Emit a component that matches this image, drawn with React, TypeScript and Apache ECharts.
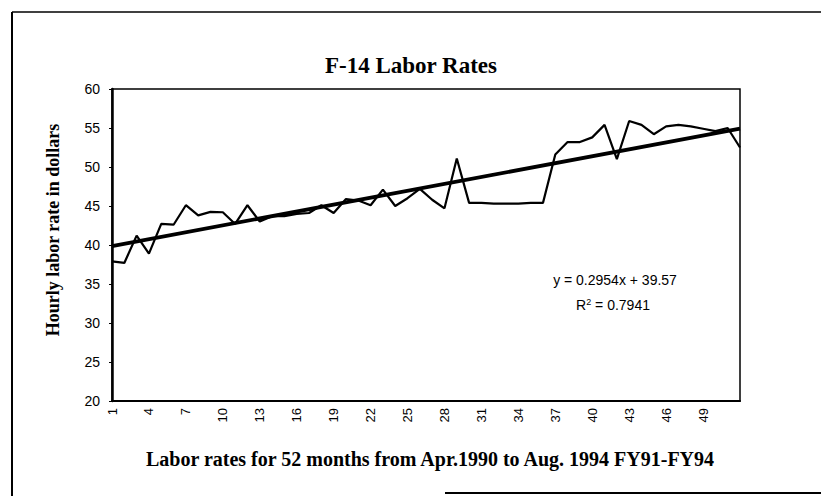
import React, { useEffect, useRef } from "react";
import * as echarts from "echarts";

const months: string[] = Array.from({ length: 52 }, (_, i) => String(i + 1));
const laborRates: number[] = [
  37.9, 37.7, 41.2, 38.9, 42.7, 42.6, 45.1, 43.8, 44.25, 44.2,
  42.7, 45.1, 43.0, 43.7, 43.7, 44.0, 44.1, 45.1, 44.1, 45.9,
  45.7, 45.1, 47.1, 45.0, 46.0, 47.2, 45.8, 44.7, 51.1, 45.4,
  45.4, 45.3, 45.3, 45.3, 45.4, 45.4, 51.6, 53.2, 53.2, 53.8,
  55.4, 51.0, 55.9, 55.4, 54.2, 55.2, 55.4, 55.2, 54.9, 54.6,
  55.0, 52.5,
];
const trendSlope = 0.2954;
const trendIntercept = 39.57;
const yMin = 20;
const yMax = 60;
const yStep = 5;

const titleText = "F-14 Labor Rates";
const xTitle = "Labor rates for 52 months from Apr.1990 to Aug. 1994 FY91-FY94";
const yTitle = "Hourly labor rate in dollars";
const eqText = "y = 0.2954x + 39.57";
const r2Text = "R{s|2} = 0.7941";

export default function App() {
  const ref = useRef<HTMLDivElement>(null);
  useEffect(() => {
    document.body.style.margin = "0";
    const chart = echarts.init(ref.current!, null, { renderer: "svg" });
    const n = months.length;
    const trendData = [
      [0, trendSlope * 1 + trendIntercept],
      [n - 1, trendSlope * n + trendIntercept],
    ];
    const serif = "'Liberation Serif', 'Times New Roman', serif";
    const sans = "'Liberation Sans', Arial, sans-serif";
    chart.setOption({
      animation: false,
      backgroundColor: "#ffffff",
      grid: {
        left: 112,
        top: 89,
        right: 81,
        bottom: 95,
        show: true,
        borderColor: "#000",
        borderWidth: 1.5,
        backgroundColor: "transparent",
      },
      xAxis: {
        type: "category",
        data: months,
        boundaryGap: false,
        axisLine: { show: true, lineStyle: { color: "#000", width: 2 } },
        axisTick: { show: false },
        axisLabel: {
          rotate: 90,
          interval: (idx: number) => idx % 3 === 0 && idx < 50,
          color: "#000",
          fontFamily: sans,
          fontSize: 13,
          margin: 7,
        },
        splitLine: { show: false },
      },
      yAxis: {
        type: "value",
        min: yMin,
        max: yMax,
        interval: yStep,
        axisLine: { show: true, lineStyle: { color: "#000", width: 2.5 } },
        axisTick: { show: true, inside: false, length: 3, lineStyle: { color: "#000", width: 1 } },
        axisLabel: { color: "#000", fontFamily: sans, fontSize: 14, margin: 12 },
        splitLine: { show: false },
      },
      series: [
        {
          type: "line",
          data: laborRates,
          symbol: "none",
          lineStyle: { color: "#000", width: 2.2 },
          z: 3,
        },
        {
          type: "line",
          data: trendData,
          symbol: "none",
          lineStyle: { color: "#000", width: 3.8 },
          z: 4,
        },
      ],
      graphic: [
        {
          type: "line",
          shape: { x1: 12, y1: 12, x2: 821, y2: 12 },
          style: { stroke: "#000", lineWidth: 1.5 },
        },
        {
          type: "line",
          shape: { x1: 12, y1: 12, x2: 12, y2: 496 },
          style: { stroke: "#000", lineWidth: 2 },
        },
        {
          type: "line",
          shape: { x1: 445, y1: 493, x2: 821, y2: 493 },
          style: { stroke: "#000", lineWidth: 2 },
        },
        {
          type: "text",
          x: 411,
          y: 65,
          style: {
            text: titleText,
            fontFamily: serif,
            fontWeight: "bold",
            fontSize: 23,
            fill: "#000",
            align: "center",
            verticalAlign: "middle",
          },
        },
        {
          type: "text",
          x: 430,
          y: 459,
          style: {
            text: xTitle,
            fontFamily: serif,
            fontWeight: "bold",
            fontSize: 20,
            fill: "#000",
            align: "center",
            verticalAlign: "middle",
          },
        },
        {
          type: "text",
          x: 53,
          y: 230,
          rotation: Math.PI / 2,
          style: {
            text: yTitle,
            fontFamily: serif,
            fontWeight: "bold",
            fontSize: 18,
            fill: "#000",
            align: "center",
            verticalAlign: "middle",
          },
        },
        {
          type: "text",
          x: 615,
          y: 280,
          style: {
            text: eqText,
            fontFamily: sans,
            fontSize: 14,
            fill: "#000",
            align: "center",
            verticalAlign: "middle",
          },
        },
        {
          type: "text",
          x: 613,
          y: 305,
          style: {
            text: r2Text,
            fontFamily: sans,
            fontSize: 14,
            fill: "#000",
            align: "center",
            verticalAlign: "middle",
            rich: {
              s: { fontSize: 9, verticalAlign: "top", padding: [0, 0, 6, 0], fontFamily: sans, fill: "#000" },
            },
          },
        },
      ],
    });
    return () => chart.dispose();
  }, []);
  return <div ref={ref} style={{ width: 821, height: 496 }} />;
}
